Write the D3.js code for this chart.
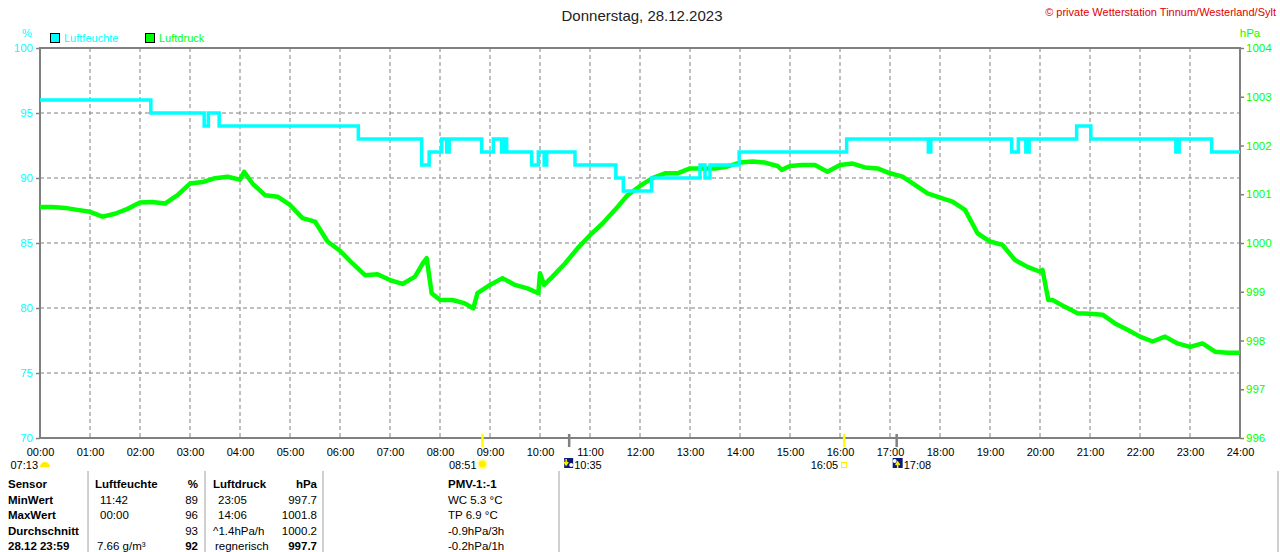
<!DOCTYPE html>
<html>
<head>
<meta charset="utf-8">
<script src="https://cdn.jsdelivr.net/npm/d3@7"></script>
<style>
  body { margin: 0; background: #fff; }
  svg { display: block; font-family: "Liberation Sans", Arial, sans-serif; }
</style>
</head>
<body>
<div id="chart"></div>
<script>
// ---- data ----
const title = "Donnerstag, 28.12.2023";
const copyright = "© private Wetterstation Tinnum/Westerland/Sylt";
const hourTicks = d3.range(0, 25);
const humTicks = [70, 75, 80, 85, 90, 95, 100];
const presTicks = [996, 997, 998, 999, 1000, 1001, 1002, 1003, 1004];

// Luftfeuchte (%), step values starting at each time
const humTime = ["00:00", "02:13", "03:17", "03:22", "03:35", "06:22", "07:38", "07:47", "08:02", "08:08",
  "08:11", "08:50", "09:04", "09:14", "09:18", "09:20", "09:50", "09:58", "10:05", "10:08",
  "10:42", "11:31", "11:40", "12:14", "13:12", "13:18", "13:24", "13:59", "16:08", "17:46",
  "17:49", "19:26", "19:34", "19:43", "19:47", "20:44", "21:01", "22:43", "22:47", "23:26", "24:00"];
const humValue = [96, 95, 94, 95, 94, 93, 91, 92, 93, 92,
  93, 92, 93, 92, 93, 92, 91, 92, 91, 92,
  91, 90, 89, 90, 91, 90, 91, 92, 93, 92,
  93, 92, 93, 92, 93, 94, 93, 92, 93, 92, 92];

// Luftdruck (hPa)
const presTime = ["00:00", "00:15", "00:30", "00:45", "01:00", "01:15", "01:30", "01:45", "02:00", "02:15",
  "02:30", "02:45", "03:00", "03:15", "03:30", "03:45", "04:00", "04:05", "04:15", "04:30",
  "04:45", "05:00", "05:15", "05:30", "05:45", "06:00", "06:15", "06:30", "06:45", "07:00",
  "07:15", "07:30", "07:40", "07:44", "07:50", "08:00", "08:15", "08:30", "08:40", "08:45",
  "09:00", "09:15", "09:30", "09:45", "09:58", "10:00", "10:05", "10:15", "10:30", "10:45",
  "11:00", "11:15", "11:30", "11:45", "12:00", "12:15", "12:30", "12:45", "13:00", "13:15",
  "13:30", "13:45", "14:00", "14:15", "14:30", "14:45", "14:50", "15:00", "15:15", "15:30",
  "15:45", "16:00", "16:15", "16:30", "16:45", "17:00", "17:15", "17:30", "17:45", "18:00",
  "18:15", "18:30", "18:45", "19:00", "19:15", "19:30", "19:45", "20:00", "20:03", "20:10",
  "20:15", "20:30", "20:45", "21:00", "21:15", "21:30", "21:45", "22:00", "22:15", "22:30",
  "22:45", "23:00", "23:15", "23:30", "23:45", "24:00"];
const presValue = [1000.74, 1000.74, 1000.72, 1000.68, 1000.64, 1000.54, 1000.60, 1000.70, 1000.83, 1000.84,
  1000.81, 1000.98, 1001.22, 1001.25, 1001.33, 1001.36, 1001.30, 1001.46, 1001.22, 1000.98,
  1000.95, 1000.78, 1000.51, 1000.44, 1000.03, 999.84, 999.58, 999.34, 999.36, 999.24,
  999.16, 999.31, 999.60, 999.69, 998.97, 998.83, 998.83, 998.76, 998.66, 998.97,
  999.14, 999.28, 999.14, 999.07, 998.97, 999.38, 999.14, 999.31, 999.58, 999.89,
  1000.16, 1000.40, 1000.68, 1000.98, 1001.17, 1001.33, 1001.43, 1001.43, 1001.53, 1001.53,
  1001.53, 1001.57, 1001.65, 1001.67, 1001.65, 1001.58, 1001.50, 1001.58, 1001.60, 1001.60,
  1001.46, 1001.60, 1001.63, 1001.55, 1001.53, 1001.43, 1001.36, 1001.19, 1001.02, 1000.93,
  1000.85, 1000.68, 1000.20, 1000.03, 999.96, 999.65, 999.51, 999.41, 999.45, 998.83,
  998.83, 998.69, 998.56, 998.55, 998.53, 998.35, 998.22, 998.08, 997.98, 998.08,
  997.94, 997.87, 997.94, 997.77, 997.75, 997.75];

// sun / moon events under the time axis
const eventTime = ["00:00", "08:51", "10:35", "16:05", "17:08"];
const eventLabel = ["07:13", "08:51", "10:35", "16:05", "17:08"];
const eventKind = ["dawn", "sunrise", "moonset", "sunset", "moonrise"];

// summary table
const tableHead = ["Sensor", "Luftfeuchte", "%", "Luftdruck", "hPa", "PMV-1:-1"];
const tableRows = [
  ["MinWert", "11:42", "89", "23:05", "997.7", "WC 5.3 °C"],
  ["MaxWert", "00:00", "96", "14:06", "1001.8", "TP 6.9 °C"],
  ["Durchschnitt", "", "93", "^1.4hPa/h", "1000.2", "-0.9hPa/3h"],
  ["28.12  23:59", "7.66 g/m³", "92", "regnerisch", "997.7", "-0.2hPa/1h"]
];

// ---- chart ----
const width = 1280, height = 552;
const padding = { l: 40, r: 40, t: 48, b: 114 };
const cyan = "#00ffff", green = "#00ff00", gray = "#808080";
const toHours = (s) => { const [h, m] = s.split(":").map(Number); return h + m / 60; };

const svg = d3.select("#chart").append("svg").attr("width", width).attr("height", height);
svg.append("rect").attr("width", width).attr("height", height).attr("fill", "#fff");

const x = d3.scaleLinear().domain([0, 24]).range([padding.l, width - padding.r]);
const yH = d3.scaleLinear().domain([70, 100]).range([height - padding.b, padding.t]);
const yP = d3.scaleLinear().domain([996, 1004]).range([height - padding.b, padding.t]);

// grid
svg.append("g").selectAll("line").data(hourTicks.slice(1, -1)).join("line")
  .attr("x1", (d) => x(d)).attr("x2", (d) => x(d))
  .attr("y1", padding.t).attr("y2", height - padding.b)
  .attr("stroke", gray).attr("stroke-dasharray", "4,3");
svg.append("g").selectAll("line").data(humTicks.slice(1, -1)).join("line")
  .attr("x1", padding.l).attr("x2", width - padding.r)
  .attr("y1", (d) => yH(d)).attr("y2", (d) => yH(d))
  .attr("stroke", gray).attr("stroke-dasharray", "4,3");

// axes
const leftAxis = svg.append("g").attr("transform", `translate(${padding.l},0)`)
  .call(d3.axisLeft(yH).tickValues(humTicks).tickSize(4).tickPadding(3));
const rightAxis = svg.append("g").attr("transform", `translate(${width - padding.r},0)`)
  .call(d3.axisRight(yP).tickValues(presTicks).tickSize(4).tickPadding(2).tickFormat(d3.format("d")));
const bottomAxis = svg.append("g").attr("transform", `translate(0,${height - padding.b})`)
  .call(d3.axisBottom(x).tickValues(hourTicks).tickSize(0).tickPadding(10)
    .tickFormat((d) => String(d).padStart(2, "0") + ":00"));
[leftAxis, rightAxis, bottomAxis].forEach((a) => {
  a.select(".domain").remove();
  a.selectAll("line").attr("stroke", gray).attr("stroke-width", 1.5);
  a.selectAll("text").attr("font-size", 11.5).attr("font-family", null);
});
leftAxis.selectAll("text").attr("fill", cyan);
rightAxis.selectAll("text").attr("fill", green);
bottomAxis.selectAll("text").attr("fill", "#000").attr("font-size", 11);

svg.append("rect")
  .attr("x", padding.l).attr("y", padding.t)
  .attr("width", width - padding.l - padding.r).attr("height", height - padding.t - padding.b)
  .attr("fill", "none").attr("stroke", gray).attr("stroke-width", 2);

// series
const humData = humTime.map((t, i) => ({ t: toHours(t), v: humValue[i] }));
const presData = presTime.map((t, i) => ({ t: toHours(t), v: presValue[i] }));

svg.append("path").datum(presData)
  .attr("fill", "none").attr("stroke", green).attr("stroke-width", 4.5).attr("stroke-linejoin", "round")
  .attr("d", d3.line().x((d) => x(d.t)).y((d) => yP(d.v)));
svg.append("path").datum(humData)
  .attr("fill", "none").attr("stroke", cyan).attr("stroke-width", 3.5)
  .attr("d", d3.line().x((d) => x(d.t)).y((d) => yH(d.v)).curve(d3.curveStepAfter));

// titles and legend
svg.append("text").text(title).attr("x", 642).attr("y", 21)
  .attr("text-anchor", "middle").attr("font-size", 15).attr("fill", "#222");
svg.append("text").text(copyright).attr("x", 1276).attr("y", 16)
  .attr("text-anchor", "end").attr("font-size", 11).attr("fill", "#e00000");
svg.append("text").text("%").attr("x", 27).attr("y", 37)
  .attr("text-anchor", "middle").attr("font-size", 11).attr("fill", cyan);
svg.append("text").text("hPa").attr("x", 1250).attr("y", 37)
  .attr("text-anchor", "middle").attr("font-size", 11.5).attr("fill", green);

const legend = svg.append("g").selectAll("g")
  .data([{ name: "Luftfeuchte", color: cyan }, { name: "Luftdruck", color: green }])
  .join("g").attr("transform", (d, i) => `translate(${50 + i * 95},33)`);
legend.append("rect").attr("x", 0.5).attr("y", 0.5).attr("width", 9).attr("height", 9)
  .attr("fill", (d) => d.color).attr("stroke", "#000");
legend.append("text").text((d) => d.name).attr("x", 14).attr("y", 9)
  .attr("font-size", 11).attr("fill", (d) => d.color);

// sun / moon events
const axisY = height - padding.b;
const ev = svg.append("g").selectAll("g")
  .data(eventTime.map((t, i) => ({ t: toHours(t), label: eventLabel[i], kind: eventKind[i] })))
  .join("g").attr("transform", (d) => `translate(${x(d.t)},0)`);
ev.filter((d) => d.kind !== "dawn").append("line")
  .attr("x1", 0).attr("x2", 0).attr("y1", axisY - 4).attr("y2", axisY + 9)
  .attr("stroke", (d) => (d.kind.startsWith("moon") ? gray : "#ffff00")).attr("stroke-width", 2.5);
ev.append("text").text((d) => d.label)
  .attr("x", (d) => ({ dawn: -2, sunrise: -6, moonset: 5, sunset: -6, moonrise: 7 }[d.kind]))
  .attr("y", 469)
  .attr("text-anchor", (d) => (d.kind.startsWith("moon") ? "start" : "end"))
  .attr("font-size", 11).attr("fill", "#000");
// icons
ev.filter((d) => d.kind === "dawn").append("path")
  .attr("d", d3.arc()({ innerRadius: 0, outerRadius: 5, startAngle: -Math.PI / 2, endAngle: Math.PI / 2 }))
  .attr("transform", "translate(5,467)").attr("fill", "#ffee00");
const sun = ev.filter((d) => d.kind === "sunrise");
sun.append("circle").attr("cx", 0).attr("cy", 464).attr("r", 5.5).attr("fill", "#ffffa0");
sun.append("circle").attr("cx", 0).attr("cy", 464).attr("r", 3.5).attr("fill", "#ffee00");
ev.filter((d) => d.kind === "sunset").append("rect")
  .attr("x", -2.5).attr("y", 462.5).attr("width", 5).attr("height", 5)
  .attr("fill", "none").attr("stroke", "#ffee00");
const moon = ev.filter((d) => d.kind.startsWith("moon"));
moon.append("rect").attr("x", (d) => (d.kind === "moonset" ? -5 : -4)).attr("y", 458)
  .attr("width", (d) => (d.kind === "moonset" ? 9 : 10)).attr("height", 10).attr("fill", "#0a1a7a");
moon.append("circle").attr("cx", (d) => (d.kind === "moonset" ? 2 : -2)).attr("cy", (d) => (d.kind === "moonset" ? 465 : 461))
  .attr("r", 2).attr("fill", "#fff");
moon.append("path")
  .attr("d", (d) => (d.kind === "moonset" ? "M-3,459 V464 M-5,462 L-3,465 L-1,462" : "M1,468 V463 M-1,465 L1,462 L3,465"))
  .attr("stroke", "#ffee00").attr("stroke-width", 1.5).attr("fill", "none");

// table
const colX = [8, 95, 198, 213, 317, 448];
const colAnchor = ["start", "start", "end", "start", "end", "start"];
const rowY0 = 488, rowStep = 15.5;
const table = svg.append("g");
[88, 205, 323, 559, 1278].forEach((sx) => {
  table.append("line").attr("x1", sx).attr("x2", sx).attr("y1", 471).attr("y2", height)
    .attr("stroke", "#a0a0a0");
});
table.append("g").selectAll("text").data(tableHead).join("text")
  .text((d) => d).attr("x", (d, i) => colX[i]).attr("y", rowY0)
  .attr("text-anchor", (d, i) => colAnchor[i])
  .attr("font-size", 11.5).attr("font-weight", "bold").attr("fill", "#000");
table.selectAll("g.row").data(tableRows).join("g").attr("class", "row")
  .attr("transform", (d, r) => `translate(0,${rowY0 + (r + 1) * rowStep})`)
  .selectAll("text").data((d, r) => d.map((v, i) => ({ v, i, r }))).join("text")
  .text((d) => d.v)
  .attr("x", (d) => colX[d.i] + (d.i === 1 || d.i === 3 ? (d.r < 2 ? 5 : 2) : 0) - (d.i === 3 && d.r === 2 ? 2 : 0))
  .attr("text-anchor", (d) => colAnchor[d.i])
  .attr("font-size", 11.5)
  .attr("font-weight", (d) => (d.i === 0 || (d.r === 3 && (d.i === 2 || d.i === 4)) ? "bold" : "normal"))
  .attr("fill", "#000");
</script>
</body>
</html>
